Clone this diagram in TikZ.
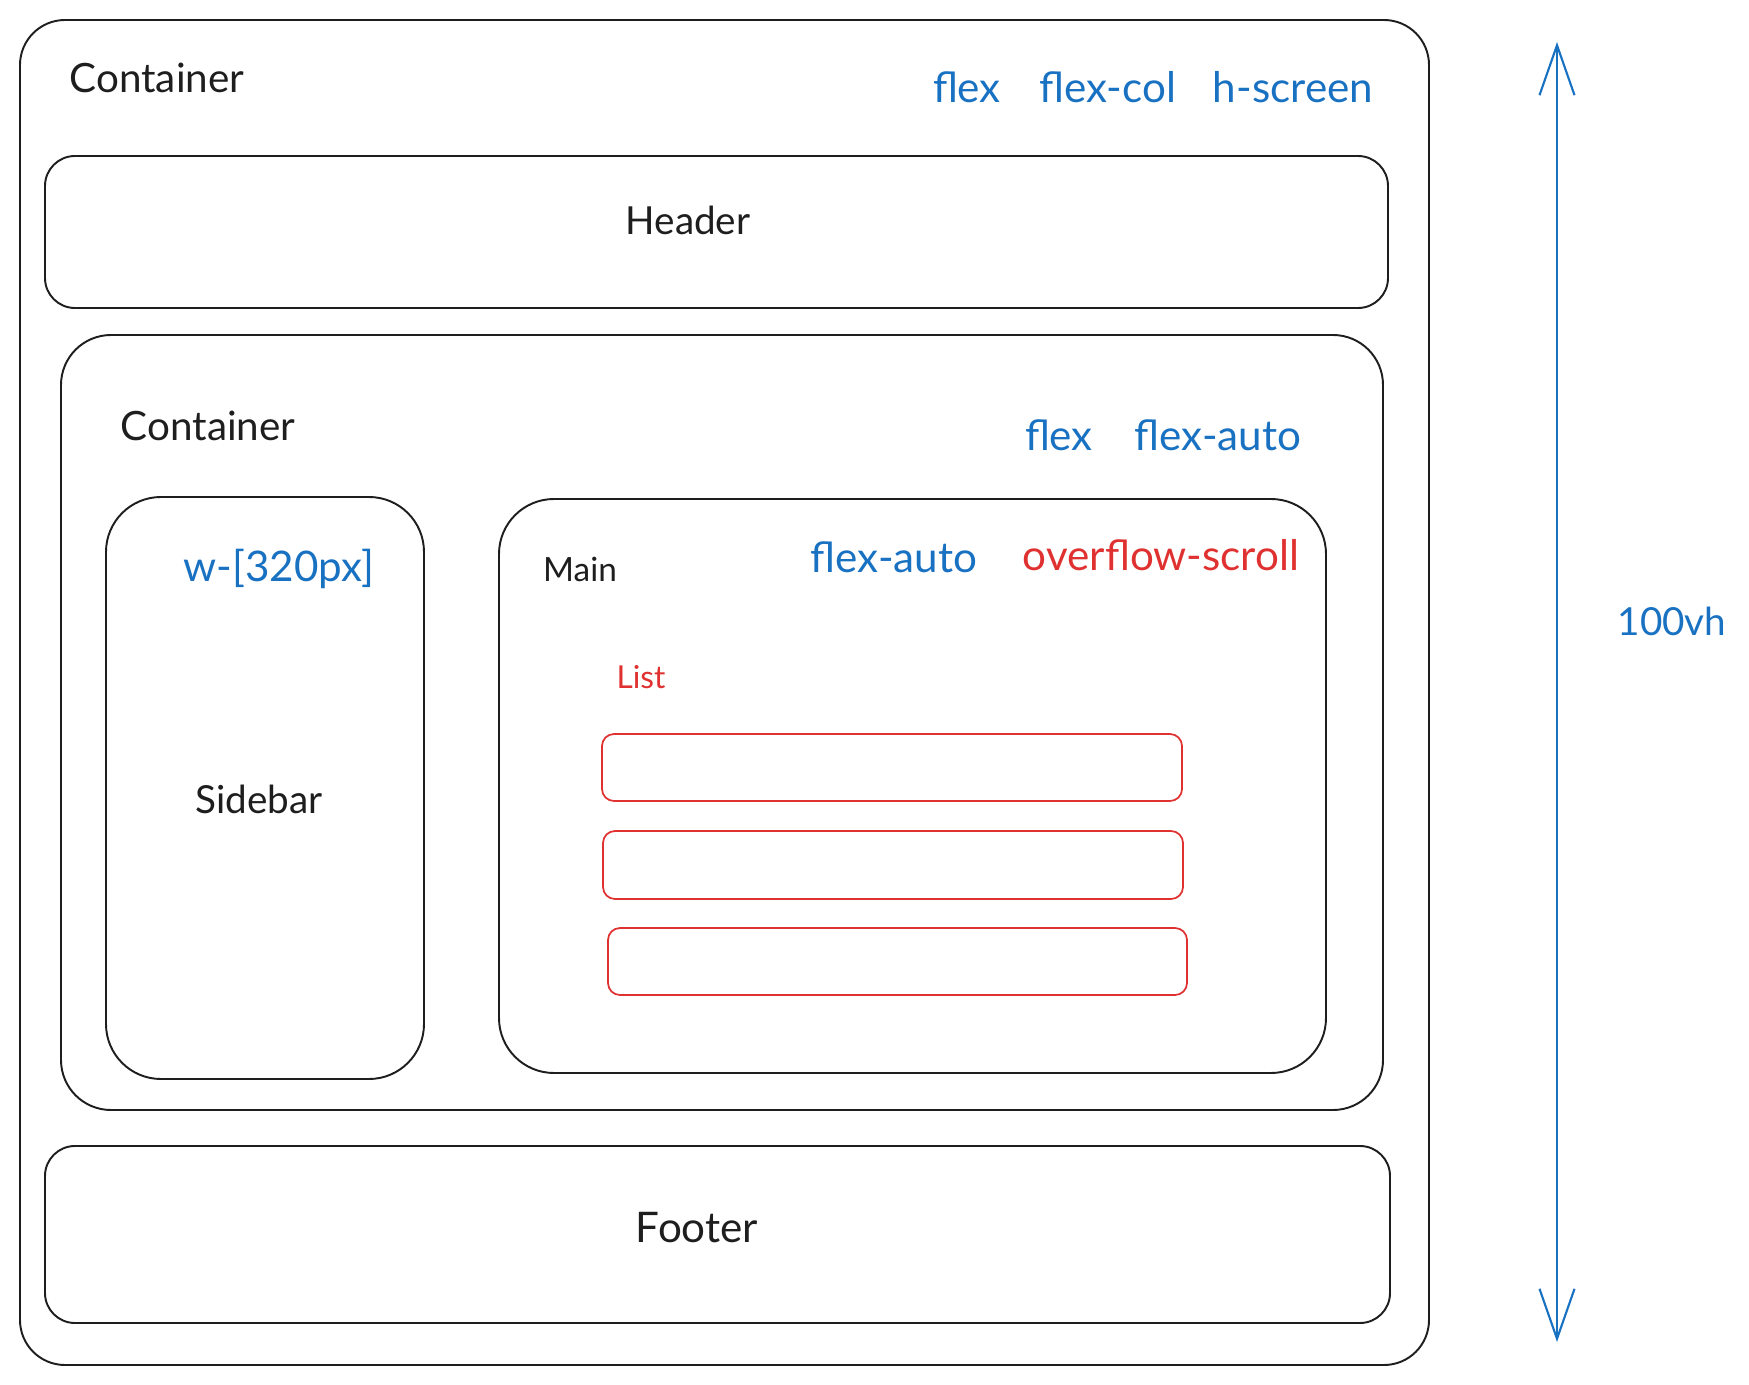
\documentclass[tikz,border=0pt]{standalone}
\usepackage{fontspec}
\setmainfont{Lato}
\usepackage{tikz}
\usetikzlibrary{arrows.meta,positioning,fit}
\definecolor{ink}{HTML}{1E1E1E}
\definecolor{twblue}{HTML}{1971C2}
\definecolor{twred}{HTML}{E03131}

\begin{document}
\begin{tikzpicture}[x=0.02cm,y=-0.02cm]
		\tikzstyle{Box}		= [draw=ink, line width=1.1pt, inner sep=0pt]
		\tikzstyle{Item}	= [draw=twred, line width=1pt, inner sep=0pt, rounded corners=0.24cm]
		\tikzstyle{Name}	= [text=ink, inner sep=0pt, font=\fontsize{23}{28}\selectfont]
		\tikzstyle{Cls}		= [text=twblue, inner sep=0pt, font=\fontsize{24}{29}\selectfont]
		\tikzstyle{Warn}	= [text=twred, inner sep=0pt, font=\fontsize{24}{29}\selectfont]
		\tikzstyle{Dim}		= [draw=twblue, line width=1.2pt]

		\useasboundingbox (0,0) rectangle (1749,1385);

		% boxes
		\node (page) [Box, rounded corners=0.9cm, fit={(20,20) (1429,1365)}] {};
		\node (header) [Box, rounded corners=0.6cm, fit={(45,156) (1388,308)}] {};
		\node (body) [Box, rounded corners=1cm, fit={(61,335) (1383,1110)}] {};
		\node (sidebar) [Box, rounded corners=1.1cm, fit={(106,497) (424,1079)}] {};
		\node (main) [Box, rounded corners=1.1cm, fit={(499,499) (1326,1073)}] {};
		\node (item1) [Item, fit={(602,734) (1182,801)}] {};
		\node (item2) [Item, fit={(603,831) (1183,899)}] {};
		\node (item3) [Item, fit={(608,928) (1187,995)}] {};
		\node (footer) [Box, rounded corners=0.6cm, fit={(45,1146) (1390,1323)}] {};

		% labels
		\node (pageName) at (157,78) [Name] {Container};
		\node (pageFlex) at (967,87) [Cls] {flex};
		\node (pageCol) at (1108,87) [Cls] {flex-col};
		\node (pageH) at (1293,87) [Cls] {h-screen};
		\node (headerName) at (688,220) [Name, font=\fontsize{22}{27}\selectfont] {Header};
		\node (bodyName) at (208,426) [Name] {Container};
		\node (bodyFlex) at (1059,435) [Cls] {flex};
		\node (bodyAuto) at (1218,435) [Cls] {flex-auto};
		\node (sideW) at (279,569) [Cls] {w-[320px]};
		\node (sideName) at (259,799) [Name, font=\fontsize{22}{27}\selectfont] {Sidebar};
		\node (mainName) at (580,569) [Name, font=\fontsize{19}{23}\selectfont] {Main};
		\node (mainAuto) at (894,557) [Cls] {flex-auto};
		\node (mainScroll) at (1161,555) [Warn] {overflow-scroll};
		\node (listName) at (641,677) [Warn, font=\fontsize{18}{22}\selectfont] {List};
		\node (footerName) at (697,1228) [Name, font=\fontsize{24}{29}\selectfont] {Footer};

		% height marker
		\coordinate (vhTop) at (1557,42);
		\coordinate (vhBot) at (1557,1342);
		\draw [{Straight Barb[length=1cm,width=0.7cm]}-{Straight Barb[length=1cm,width=0.7cm]}] (vhTop) to (vhBot) [Dim];
		\node (vh) at (1672,621) [Cls, font=\fontsize{22}{27}\selectfont] {100vh};
	\end{tikzpicture}
\end{document}
